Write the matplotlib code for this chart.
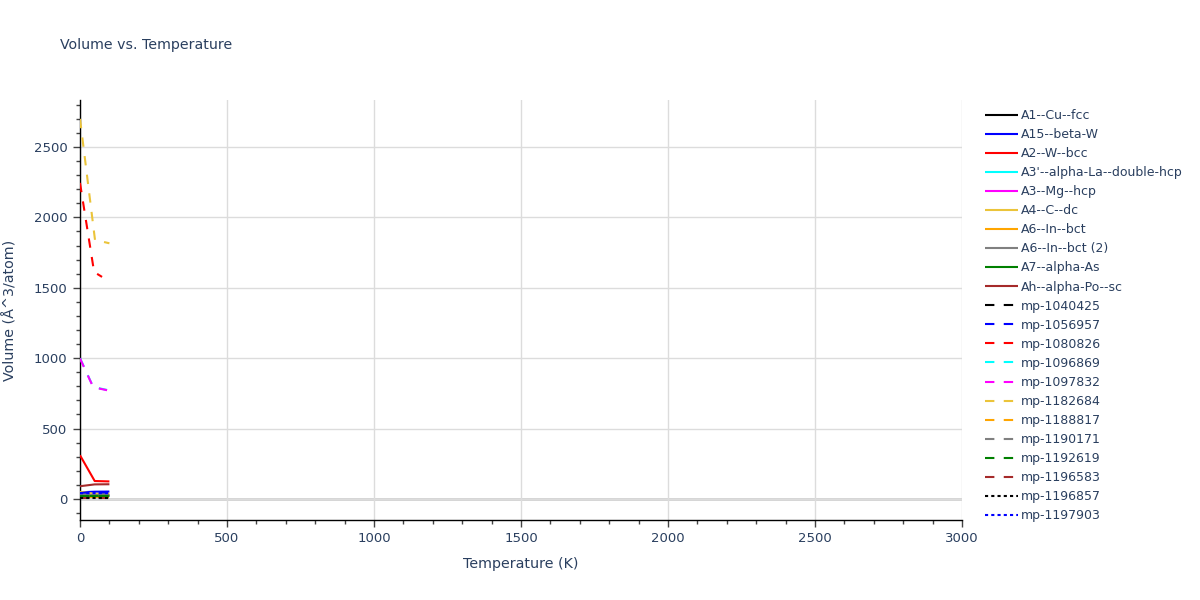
import matplotlib
matplotlib.use("Agg")
import matplotlib.pyplot as plt
from matplotlib.ticker import MultipleLocator

# ---- data ----
labels = ["A1--Cu--fcc", "A15--beta-W", "A2--W--bcc", "A3'--alpha-La--double-hcp",
          "A3--Mg--hcp", "A4--C--dc", "A6--In--bct", "A6--In--bct (2)", "A7--alpha-As",
          "Ah--alpha-Po--sc", "mp-1040425", "mp-1056957", "mp-1080826", "mp-1096869",
          "mp-1097832", "mp-1182684", "mp-1188817", "mp-1190171", "mp-1192619",
          "mp-1196583", "mp-1196857", "mp-1197903"]
colors = ["black", "blue", "red", "cyan", "magenta", "#EBC43A", "orange", "grey", "green",
          "brown", "black", "blue", "red", "cyan", "magenta", "#EBC43A", "orange", "grey",
          "green", "brown", "black", "blue"]
styles = ["solid"] * 10 + ["dash"] * 10 + ["dot"] * 2

temps = [
    [0, 50, 100], [0, 50, 100], [0, 50, 100], [0, 50, 100], [0, 50, 100],
    [0, 50, 100], [0, 50, 100], [0, 50, 100], [0, 50, 100], [0, 50, 100],
    [0, 50, 100], [0, 50, 100], [0, 48, 75], [0, 45, 92], [0, 45, 92],
    [0, 51, 100], [0, 50, 100], [0, 50, 100], [0, 50, 100], [0, 50, 100],
    [0, 50, 100], [0, 50, 100],
]
volumes = [
    [12, 12, 12], [47, 51, 52], [310, 127, 124], [24, 22, 22], [28, 25, 25],
    [50, 36, 36], [16, 16, 16], [26, 27, 27], [20, 21, 21], [90, 103, 104],
    [12, 12, 12], [42, 43, 43], [2245, 1612, 1577], [1000, 795, 774], [998, 793, 772],
    [2700, 1840, 1816], [18, 18, 19], [30, 31, 31], [20, 21, 21], [3, 3, 3],
    [6, 6, 6], [40, 41, 41],
]

x_ticks = [0, 500, 1000, 1500, 2000, 2500, 3000]
y_ticks = [0, 500, 1000, 1500, 2000, 2500]

# ---- plot ----
plt.rcParams['font.family'] = ['DejaVu Sans']
text_color = "#2a3f5f"
fig = plt.figure(figsize=(12, 6), dpi=100)
ax = fig.add_axes([80 / 1200, 1 - 520 / 600, (962 - 80) / 1200, 420 / 600])

dash_map = {"solid": "-", "dash": (0, (4.5, 4.5)), "dot": (0, (1.5, 1.5))}
for lab, col, st, t, v in zip(labels, colors, styles, temps, volumes):
    ax.plot(t, v, color=col, linestyle=dash_map[st], linewidth=1.5, label=lab,
            solid_capstyle="butt", dash_capstyle="butt", zorder=3)

ax.set_xlim(0, 3000)
ax.set_ylim(-150, 2834)
ax.set_xticks(x_ticks)
ax.set_yticks(y_ticks)
ax.xaxis.set_minor_locator(MultipleLocator(100))
ax.yaxis.set_minor_locator(MultipleLocator(100))
ax.grid(True, which="major", color="#dcdcdc", linewidth=1, zorder=0)
ax.axhline(0, color="#d0d0d0", linewidth=2, zorder=1)

for s in ["top", "right"]:
    ax.spines[s].set_visible(False)
for s in ["left", "bottom"]:
    ax.spines[s].set_color("black")
    ax.spines[s].set_linewidth(1)

ax.tick_params(axis="both", which="major", direction="out", length=5, width=1,
               color="#444444", labelcolor=text_color, labelsize=9.5, pad=4)
ax.tick_params(axis="both", which="minor", direction="out", length=3, width=1,
               color="#444444")

ax.set_xlabel("Temperature (K)", color=text_color, fontsize=10.3, labelpad=8)
ax.set_ylabel("Volume (Å^3/atom)", color=text_color, fontsize=10.3, labelpad=12)
fig.text(60 / 1200, 1 - 45 / 600, "Volume vs. Temperature", color=text_color,
         fontsize=10.2, va="center", ha="left")

leg = fig.legend(loc="upper left", bbox_to_anchor=(980 / 1200, 1 - 104 / 600),
                 frameon=False, fontsize=9, handlelength=2.6, handletextpad=0.3,
                 labelspacing=0.485, borderaxespad=0)
for txt in leg.get_texts():
    txt.set_color(text_color)

fig.savefig("out.png", dpi=100)
